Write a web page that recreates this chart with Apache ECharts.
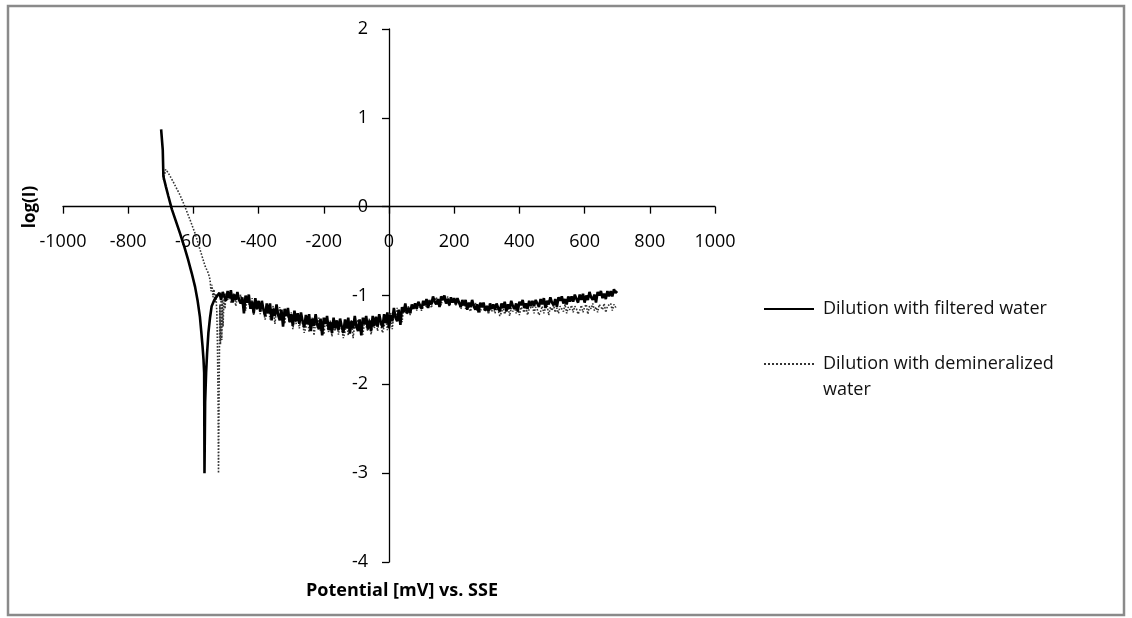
<!DOCTYPE html>
<html>
<head>
<meta charset="utf-8">
<script src="https://cdn.jsdelivr.net/npm/echarts@6/dist/echarts.min.js"></script>
<style>
html,body{margin:0;padding:0;background:#fff;}
#chart{width:1132px;height:618px;}
</style>
</head>
<body>
<div id="chart"></div>
<script>
// ---- data ----
const seriesNames = ['Dilution with filtered water', 'Dilution with demineralized water'];
const xTicks = { min: -1000, max: 1000, interval: 200 };
const yTicks = { min: -4, max: 2, interval: 1 };
const xTitle = 'Potential [mV] vs. SSE';
const yTitle = 'log(I)';

// filtered water: smooth cathodic branch + dip
const filteredBranch = [
  [-699,0.87],[-694,0.64],[-692,0.34],[-684,0.22],[-677,0.12],[-666,-0.03],[-654,-0.16],
  [-641,-0.30],[-628,-0.45],[-616,-0.60],[-605,-0.75],[-595,-0.90],[-587,-1.06],[-580,-1.24],
  [-576,-1.40],[-572,-1.57],[-569,-1.72],[-567,-1.87],[-566,-3.00],[-564,-2.20],[-561,-1.87],
  [-558,-1.65],[-554,-1.42],[-549,-1.25],[-544,-1.12],[-536,-1.05],[-528,-1.01]
];
// filtered water: noisy anodic part
const filteredNoisy = [
  [-520,-0.97],[-515,-1.05],[-510,-0.96],[-505,-1.01],[-500,-1.06],[-495,-0.95],[-490,-1.03],[-485,-0.94],
  [-480,-1.08],[-475,-0.99],[-470,-1.05],[-465,-0.96],[-460,-1.05],[-455,-1.09],[-450,-1.02],[-445,-1.20],
  [-440,-1.00],[-435,-1.08],[-430,-0.99],[-425,-1.15],[-420,-1.07],[-415,-1.20],[-410,-1.03],[-405,-1.15],
  [-400,-1.06],[-395,-1.18],[-390,-1.06],[-385,-1.16],[-380,-1.23],[-375,-1.09],[-370,-1.20],[-365,-1.09],
  [-360,-1.28],[-355,-1.15],[-350,-1.23],[-345,-1.10],[-340,-1.22],[-335,-1.28],[-330,-1.16],[-325,-1.35],
  [-320,-1.15],[-315,-1.23],[-310,-1.14],[-305,-1.30],[-300,-1.21],[-295,-1.34],[-290,-1.17],[-285,-1.29],
  [-280,-1.20],[-275,-1.32],[-270,-1.19],[-265,-1.29],[-260,-1.36],[-255,-1.22],[-250,-1.32],[-245,-1.21],
  [-240,-1.40],[-235,-1.26],[-230,-1.34],[-225,-1.21],[-220,-1.33],[-215,-1.38],[-210,-1.26],[-205,-1.45],
  [-200,-1.25],[-195,-1.32],[-190,-1.23],[-185,-1.39],[-180,-1.30],[-175,-1.42],[-170,-1.25],[-165,-1.37],
  [-160,-1.28],[-155,-1.39],[-150,-1.26],[-145,-1.35],[-140,-1.42],[-135,-1.27],[-130,-1.37],[-125,-1.25],
  [-120,-1.43],[-115,-1.29],[-110,-1.37],[-105,-1.23],[-100,-1.35],[-95,-1.40],[-90,-1.27],[-85,-1.45],
  [-80,-1.25],[-75,-1.32],[-70,-1.23],[-65,-1.38],[-60,-1.28],[-55,-1.40],[-50,-1.23],[-45,-1.34],
  [-40,-1.24],[-35,-1.35],[-30,-1.21],[-25,-1.30],[-20,-1.36],[-15,-1.21],[-10,-1.31],[-5,-1.19],
  [0,-1.37],[5,-1.22],[10,-1.29],[15,-1.14],[20,-1.25],[25,-1.29],[30,-1.16],[35,-1.33],
  [40,-1.13],[45,-1.19],[50,-1.09],[55,-1.20],[60,-1.14],[65,-1.20],[70,-1.10],[75,-1.15],
  [80,-1.09],[85,-1.15],[90,-1.07],[95,-1.11],[100,-1.15],[105,-1.06],[110,-1.11],[115,-1.04],
  [120,-1.14],[125,-1.06],[130,-1.10],[135,-1.01],[140,-1.07],[145,-1.10],[150,-1.04],[155,-1.13],
  [160,-1.01],[165,-1.05],[170,-1.00],[175,-1.09],[180,-1.04],[185,-1.11],[190,-1.02],[195,-1.08],
  [200,-1.03],[205,-1.10],[210,-1.03],[215,-1.08],[220,-1.13],[225,-1.05],[230,-1.11],[235,-1.05],
  [240,-1.16],[245,-1.08],[250,-1.13],[255,-1.05],[260,-1.12],[265,-1.16],[270,-1.10],[275,-1.19],
  [280,-1.08],[285,-1.13],[290,-1.08],[295,-1.17],[300,-1.12],[305,-1.18],[310,-1.09],[315,-1.15],
  [320,-1.10],[325,-1.16],[330,-1.09],[335,-1.14],[340,-1.18],[345,-1.09],[350,-1.14],[355,-1.07],
  [360,-1.18],[365,-1.10],[370,-1.15],[375,-1.06],[380,-1.12],[385,-1.15],[390,-1.09],[395,-1.18],
  [400,-1.07],[405,-1.11],[410,-1.05],[415,-1.14],[420,-1.09],[425,-1.15],[430,-1.06],[435,-1.12],
  [440,-1.06],[445,-1.12],[450,-1.05],[455,-1.09],[460,-1.13],[465,-1.04],[470,-1.10],[475,-1.03],
  [480,-1.14],[485,-1.06],[490,-1.10],[495,-1.02],[500,-1.08],[505,-1.11],[510,-1.04],[515,-1.13],
  [520,-1.02],[525,-1.06],[530,-1.01],[535,-1.09],[540,-1.04],[545,-1.10],[550,-1.01],[555,-1.07],
  [560,-1.01],[565,-1.07],[570,-0.99],[575,-1.04],[580,-1.08],[585,-0.99],[590,-1.05],[595,-0.98],
  [600,-1.08],[605,-1.00],[610,-1.05],[615,-0.96],[620,-1.02],[625,-1.05],[630,-0.99],[635,-1.08],
  [640,-0.96],[645,-1.00],[650,-0.95],[655,-1.03],[660,-0.98],[665,-1.04],[670,-0.95],[675,-1.01],
  [680,-0.95],[685,-1.01],[690,-0.93],[695,-0.97],[700,-0.95]
];
// demineralized water: cathodic branch + dip
const demineralizedBranch = [
  [-692,0.30],[-685,0.42],[-677,0.38],[-662,0.28],[-641,0.13],[-626,0.00],[-610,-0.15],
  [-595,-0.30],[-580,-0.48],[-564,-0.67],[-554,-0.75],[-549,-0.82],[-546,-0.95],[-543,-0.88],
  [-540,-1.02],[-537,-0.93],[-534,-1.08],[-531,-0.98],[-528,-1.20],[-526,-1.60],[-524,-2.30],
  [-523,-3.00],[-521,-2.00],[-519,-1.10],[-517,-1.55],[-515,-1.00],[-513,-1.50],[-511,-1.05],
  [-509,-1.35],[-506,-1.00],[-503,-1.15],[-500,-0.97]
];
// demineralized water: noisy anodic part
const demineralizedNoisy = [
  [-495,-1.05],[-490,-0.97],[-485,-1.08],[-480,-1.01],[-475,-0.97],[-470,-1.12],[-465,-1.01],[-460,-1.06],
  [-455,-0.99],[-450,-1.11],[-445,-1.06],[-440,-1.17],[-435,-1.03],[-430,-1.05],[-425,-1.15],[-420,-1.03],
  [-415,-1.22],[-410,-1.09],[-405,-1.16],[-400,-1.06],[-395,-1.21],[-390,-1.10],[-385,-1.17],[-380,-1.27],
  [-375,-1.21],[-370,-1.11],[-365,-1.27],[-360,-1.16],[-355,-1.12],[-350,-1.32],[-345,-1.16],[-340,-1.23],
  [-335,-1.13],[-330,-1.28],[-325,-1.21],[-320,-1.32],[-315,-1.18],[-310,-1.20],[-305,-1.30],[-300,-1.19],
  [-295,-1.38],[-290,-1.25],[-285,-1.32],[-280,-1.22],[-275,-1.37],[-270,-1.25],[-265,-1.32],[-260,-1.42],
  [-255,-1.36],[-250,-1.25],[-245,-1.41],[-240,-1.30],[-235,-1.25],[-230,-1.45],[-225,-1.29],[-220,-1.36],
  [-215,-1.25],[-210,-1.40],[-205,-1.33],[-200,-1.44],[-195,-1.29],[-190,-1.31],[-185,-1.41],[-180,-1.28],
  [-175,-1.46],[-170,-1.33],[-165,-1.40],[-160,-1.30],[-155,-1.44],[-150,-1.32],[-145,-1.38],[-140,-1.48],
  [-135,-1.41],[-130,-1.30],[-125,-1.45],[-120,-1.33],[-115,-1.28],[-110,-1.48],[-105,-1.31],[-100,-1.38],
  [-95,-1.27],[-90,-1.41],[-85,-1.33],[-80,-1.44],[-75,-1.29],[-70,-1.31],[-65,-1.40],[-60,-1.26],
  [-55,-1.44],[-50,-1.31],[-45,-1.37],[-40,-1.26],[-35,-1.40],[-30,-1.27],[-25,-1.33],[-20,-1.42],
  [-15,-1.35],[-10,-1.24],[-5,-1.39],[0,-1.25],[5,-1.19],[10,-1.38],[15,-1.20],[20,-1.26],
  [25,-1.14],[30,-1.28],[35,-1.20],[40,-1.30],[45,-1.14],[50,-1.15],[55,-1.21],[60,-1.12],
  [65,-1.22],[70,-1.14],[75,-1.16],[80,-1.10],[85,-1.17],[90,-1.10],[95,-1.13],[100,-1.17],
  [105,-1.13],[110,-1.06],[115,-1.14],[120,-1.07],[125,-1.04],[130,-1.14],[135,-1.05],[140,-1.08],
  [145,-1.02],[150,-1.10],[155,-1.05],[160,-1.11],[165,-1.02],[170,-1.04],[175,-1.09],[180,-1.01],
  [185,-1.12],[190,-1.05],[195,-1.08],[200,-1.03],[205,-1.11],[210,-1.05],[215,-1.09],[220,-1.15],
  [225,-1.12],[230,-1.06],[235,-1.15],[240,-1.09],[245,-1.07],[250,-1.18],[255,-1.10],[260,-1.14],
  [265,-1.08],[270,-1.17],[275,-1.13],[280,-1.19],[285,-1.11],[290,-1.13],[295,-1.18],[300,-1.11],
  [305,-1.21],[310,-1.14],[315,-1.18],[320,-1.12],[325,-1.20],[330,-1.14],[335,-1.17],[340,-1.23],
  [345,-1.19],[350,-1.13],[355,-1.21],[360,-1.15],[365,-1.12],[370,-1.23],[375,-1.14],[380,-1.18],
  [385,-1.12],[390,-1.20],[395,-1.16],[400,-1.22],[405,-1.13],[410,-1.15],[415,-1.19],[420,-1.12],
  [425,-1.22],[430,-1.15],[435,-1.17],[440,-1.12],[445,-1.20],[450,-1.13],[455,-1.16],[460,-1.22],
  [465,-1.18],[470,-1.12],[475,-1.20],[480,-1.14],[485,-1.11],[490,-1.22],[495,-1.13],[500,-1.17],
  [505,-1.11],[510,-1.19],[515,-1.14],[520,-1.20],[525,-1.12],[530,-1.13],[535,-1.18],[540,-1.10],
  [545,-1.20],[550,-1.13],[555,-1.16],[560,-1.11],[565,-1.19],[570,-1.12],[575,-1.15],[580,-1.21],
  [585,-1.17],[590,-1.11],[595,-1.19],[600,-1.13],[605,-1.10],[610,-1.21],[615,-1.12],[620,-1.15],
  [625,-1.09],[630,-1.17],[635,-1.13],[640,-1.19],[645,-1.10],[650,-1.12],[655,-1.16],[660,-1.09],
  [665,-1.19],[670,-1.12],[675,-1.14],[680,-1.09],[685,-1.17],[690,-1.10],[695,-1.13],[700,-1.12]
];

// ---- chart ----
const FONT = 'Open Sans';
const chart = echarts.init(document.getElementById('chart'), null, { renderer: 'canvas' });
const filteredData = filteredBranch.concat(filteredNoisy);
const demineralizedData = demineralizedBranch.concat(demineralizedNoisy);

// grid geometry: the axes cross at the zero of the other axis
const GRID = { left: 63, right: 417, top: 29, bottom: 56 };
const W = 1132, H = 618;
const plotW = W - GRID.left - GRID.right, plotH = H - GRID.top - GRID.bottom;
const xAxisOffset = -(plotH * (0 - yTicks.min) / (yTicks.max - yTicks.min)); // move up from bottom edge to y=0
const yAxisOffset = -(plotW * (0 - xTicks.min) / (xTicks.max - xTicks.min)); // move right from left edge to x=0

chart.setOption({
  animation: false,
  backgroundColor: '#ffffff',
  textStyle: { fontFamily: FONT },
  grid: { left: GRID.left, right: GRID.right, top: GRID.top, bottom: GRID.bottom, containLabel: false },
  xAxis: {
    type: 'value', min: xTicks.min, max: xTicks.max, interval: xTicks.interval,
    position: 'bottom', offset: xAxisOffset,
    axisLine: { onZero: false, lineStyle: { color: '#000', width: 1.3 } },
    axisTick: { show: true, inside: false, length: 7, lineStyle: { color: '#000', width: 1.3 } },
    axisLabel: { color: '#000', fontSize: 18, fontFamily: FONT, margin: 26, formatter: v => String(v) },
    splitLine: { show: false }
  },
  yAxis: {
    type: 'value', min: yTicks.min, max: yTicks.max, interval: yTicks.interval,
    position: 'left', offset: yAxisOffset,
    axisLine: { onZero: false, lineStyle: { color: '#000', width: 1.3 } },
    axisTick: { show: true, inside: false, length: 7, lineStyle: { color: '#000', width: 1.3 } },
    axisLabel: { color: '#000', fontSize: 18, fontFamily: FONT, margin: 21, formatter: v => String(v) },
    splitLine: { show: false }
  },
  legend: [
    {
      data: [seriesNames[0]], orient: 'vertical', left: 763, top: 300, padding: 0,
      itemWidth: 50, itemHeight: 14, selectedMode: false,
      itemStyle: { opacity: 0 },
      textStyle: { color: '#111', fontSize: 18, fontFamily: FONT, padding: [0, 0, 0, 4] }
    },
    {
      data: [seriesNames[1]], orient: 'vertical', left: 763, top: 325, padding: 0,
      itemWidth: 50, itemHeight: 14, selectedMode: false,
      itemStyle: { opacity: 0 },
      formatter: function (n) { return '\nDilution with demineralized\nwater'; },
      textStyle: { color: '#111', fontSize: 18, fontFamily: FONT, lineHeight: 26, padding: [0, 0, 0, 4] }
    }
  ],
  graphic: [
    { type: 'rect', shape: { x: 8, y: 6, width: 1116, height: 609 }, style: { fill: 'none', stroke: '#8a8a8a', lineWidth: 2.5 }, silent: true },
    { type: 'text', x: 402, y: 591, style: { text: xTitle, font: 'bold 18px "' + FONT + '"', fill: '#000', align: 'center', verticalAlign: 'middle' } },
    { type: 'text', x: 30, y: 207, rotation: Math.PI / 2, style: { text: yTitle, font: 'bold 17px "' + FONT + '"', fill: '#000', align: 'center', verticalAlign: 'middle' } }
  ],
  series: [
    {
      name: seriesNames[0], type: 'line', data: filteredData, z: 3,
      symbol: 'none', showSymbol: false, smooth: false,
      lineStyle: { color: '#000', width: 2.6, type: 'solid' },
      itemStyle: { color: '#000' }
    },
    {
      name: seriesNames[1], type: 'line', data: demineralizedData, z: 2,
      symbol: 'none', showSymbol: false, smooth: false,
      lineStyle: { color: '#333', width: 1.6, type: 'dotted' },
      itemStyle: { color: '#333' }
    }
  ]
});
</script>
</body>
</html>
